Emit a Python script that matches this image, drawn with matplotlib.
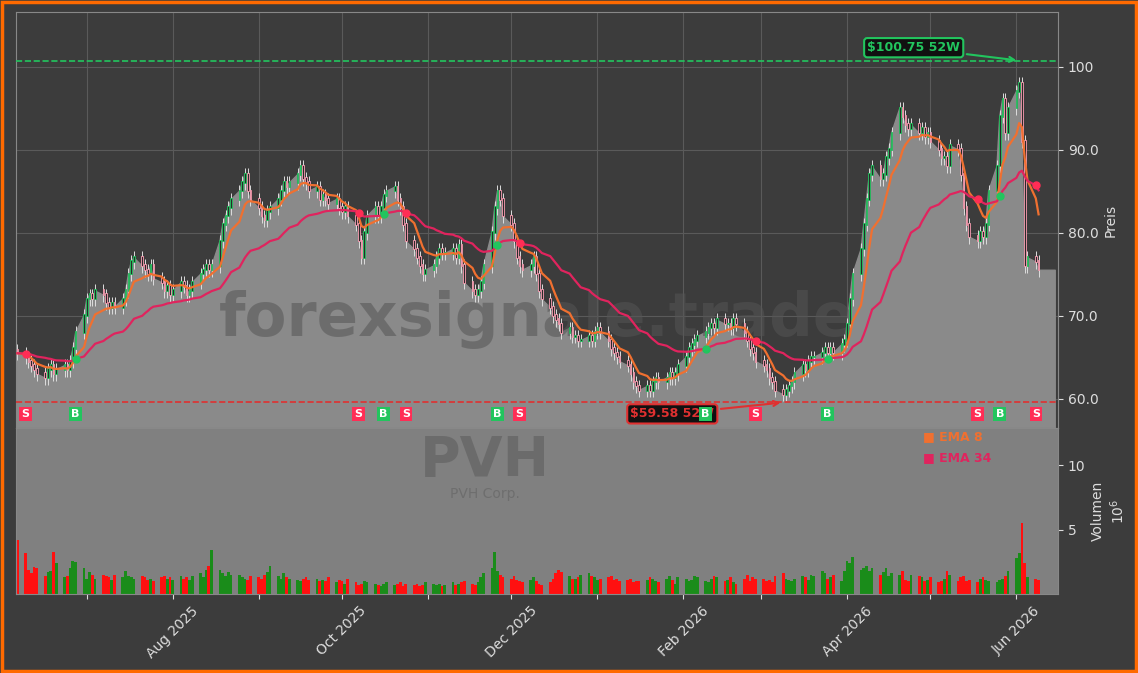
import numpy as np
import pandas as pd
import matplotlib
matplotlib.use("Agg")
import matplotlib.pyplot as plt
import matplotlib.dates as mdates

# daily closes, roughly one row per trading week
close = [
    65.5, 65, 64.5, 64, 63.5,  63, 62.5, 63.5, 64, 63,  63.5, 64, 63.5, 64.5, 66,
    68, 70, 72, 72.5, 72,  73, 72.5, 71.5, 71, 71.5,  71, 72, 73, 75, 76.5,
    77, 76, 75.5, 75, 76,  74.5, 74, 73, 73.5, 72.5,  73, 74, 73.5, 72.5, 73,
    74, 75, 75.5, 76, 75.5,  76, 79, 81, 82, 83, 84,  85, 86, 87, 85, 84,
    83, 82, 81.5, 82.5, 83,  84, 85, 86, 85.5, 86,  87, 88, 86.5, 86, 85,
    85.5, 84, 84.5, 84, 83.5, 84,  83, 82.5, 83, 82, 81,  79, 77, 80, 82, 83,
    82, 83, 84.5, 85, 85.5,  84, 83, 81, 79, 78,  77, 76, 75, 75.5, 76,
    77, 78, 77.5, 77.5, 78, 77,  78.5, 76, 74, 73, 72.5,  73, 74, 76, 80, 83,
    85, 84, 82, 81, 79, 77,  76, 75.5, 76, 77, 75,  73, 72, 71, 70, 69.5,
    69, 68, 68.5, 67.5, 67.5, 67,  67, 67.5, 67, 68, 68.5,  68, 67, 66, 65.5, 65,
    64.5, 64, 63, 62, 61.5, 61,  61.5, 61, 62, 62.5, 62,  62.5, 63, 62.5, 63, 64,
    65, 66, 66.5, 67, 67.5, 68,  68.5, 69, 68.5, 69.5, 69,  69, 68.5, 69.5, 69, 68,
    67, 66, 65.5, 64.5, 64, 63.5,  62.5, 62, 61, 60.5, 61,  61.5, 62, 63, 64, 63.5,
    64.5, 65, 65, 65.5, 66, 65.5,  66, 65.5, 66.5, 67, 69,  72, 75, 78, 81, 84,
    87, 88, 86.5, 87, 89, 90,  92, 95, 94, 93, 92.5,  93, 92, 92.5, 91.5, 92,
    91, 90, 89, 89, 88, 90.5,  90, 87, 83, 81, 79.5,  79, 80, 79.5, 81, 85,
    88, 94, 96, 92, 95,  97, 98, 91, 76, 77,  76.5, 75.5,
]
# volume in millions
volume = [
    4.2, 3.2, 1.9, 1.6, 2.1,  2.0, 1.4, 1.7, 1.8, 3.3,  2.4, 1.3, 1.4, 2.0, 2.6,
    2.5, 2.0, 1.2, 1.7, 1.5,  1.2, 1.5, 1.4, 1.3, 1.1,  1.5, 1.3, 1.8, 1.4, 1.3,
    1.2, 1.4, 1.3, 1.1, 1.2,  1.0, 1.3, 1.4, 1.2, 1.3,  1.1, 1.4, 1.2, 1.3, 1.1,
    1.4, 1.6, 1.3, 1.9, 2.2,  3.4, 1.9, 1.6, 1.4, 1.7, 1.5,  1.5, 1.3, 1.2, 1.1, 1.4,
    1.3, 1.2, 1.5, 1.7, 2.2,  1.4, 1.2, 1.6, 1.3, 1.2,  1.1, 1.0, 1.2, 1.3, 1.1,
    1.2, 1.0, 1.1, 1.0, 1.3, 0.9,  1.1, 1.0, 0.8, 1.2, 0.9,  0.7, 0.8, 1.0, 0.9, 0.8,
    0.7, 0.6, 0.8, 0.9, 0.7,  0.8, 0.9, 0.6, 0.8, 0.7,  0.8, 0.6, 0.7, 0.9, 0.8,
    0.7, 0.8, 0.6, 0.7, 0.9, 0.7,  0.8, 0.9, 1.0, 0.8, 0.7,  0.9, 1.3, 1.6, 2.0, 3.3,
    1.8, 1.5, 1.3, 1.2, 1.4, 1.1,  1.0, 0.9, 1.1, 1.3, 1.0,  0.8, 0.7, 0.9, 1.2, 1.6,
    1.9, 1.7, 1.4, 1.2, 1.2, 1.3,  1.5, 1.6, 1.4, 1.3, 1.1,  1.2, 1.3, 1.4, 1.1, 1.2,
    1.0, 1.1, 1.2, 0.9, 1.0, 1.0,  1.1, 1.3, 1.2, 1.0, 0.9,  1.2, 1.4, 1.1, 0.8, 1.3,
    1.2, 1.0, 1.1, 1.4, 1.3, 1.0,  0.9, 1.2, 1.4, 1.3, 1.0,  1.1, 1.3, 0.9, 0.8, 1.2,
    1.5, 1.0, 1.3, 1.2, 1.2, 1.0,  1.1, 0.9, 1.4, 1.6, 1.2,  1.1, 1.0, 1.2, 1.4, 1.3,
    1.1, 1.5, 1.4, 1.8, 1.6, 1.2,  1.3, 1.5, 1.0, 1.8, 2.6,  2.4, 2.9, 1.9, 2.0, 2.2,
    1.8, 2.0, 1.5, 1.7, 2.0, 1.4,  1.6, 1.5, 1.8, 1.1, 1.0,  1.5, 1.4, 1.3, 1.0, 1.1,
    1.3, 0.9, 1.0, 1.2, 1.8, 1.5,  1.0, 1.3, 1.4, 1.0, 1.1,  0.9, 1.2, 1.3, 1.1, 1.0,
    0.9, 1.1, 1.2, 1.4, 1.8,  2.8, 3.2, 5.5, 2.4, 1.3,  1.2, 1.1,
]
start_date = "2025-06-06"
high_52w, low_52w = 100.75, 59.58

bg = "#3c3c3c"
up_c, dn_c = "#22c55e", "#ff2d55"
ema8_c, ema34_c = "#f07030", "#e0245e"

n = min(len(close), len(volume))
close = np.array(close[:n]); volume = np.array(volume[:n])
dates = pd.bdate_range(start_date, periods=n)
opens = np.concatenate([[close[0] + 0.3], close[:-1]])
highs = np.maximum(opens, close) + 0.8
lows = np.minimum(opens, close) - 0.8
s = pd.Series(close, index=dates)
ema8 = s.ewm(span=8, adjust=False).mean().values
ema34 = s.ewm(span=34, adjust=False).mean().values

fig = plt.figure(figsize=(11.38, 6.73), dpi=100, facecolor=bg)
fig.patches.append(plt.Rectangle((0.002, 0.003), 0.996, 0.994, transform=fig.transFigure,
                                 fill=False, edgecolor="#ff6a00", linewidth=2.5))
W, H = 1138, 673
ax = fig.add_axes([16 / W, (H - 428) / H, 1042 / W, 416 / H], facecolor=bg)
axv = fig.add_axes([16 / W, (H - 594) / H, 1042 / W, 166 / H], facecolor="#808080", sharex=ax)

x = mdates.date2num(dates)
ax.fill_between(np.append(x, x[-1] + 6), 0, np.append(close, close[-1]), color="#8a8a8a", zorder=1)
for i in range(n):
    c = up_c if close[i] >= opens[i] else dn_c
    ax.vlines(x[i], lows[i], highs[i], color="#dddddd", lw=0.7, zorder=2)
    ax.bar(x[i], abs(close[i] - opens[i]) + 0.2, bottom=min(close[i], opens[i]), width=0.6,
           color="#2a2a2a", edgecolor=c if c == up_c else "#ff9fb5", lw=0.6, zorder=3)
ax.plot(x, ema8, color=ema8_c, lw=1.6, zorder=4)
ax.plot(x, ema34, color=ema34_c, lw=1.6, zorder=4)

# crossover signals
diff = np.sign(ema8 - ema34)
for i in range(1, n):
    if diff[i] != diff[i - 1] and diff[i] != 0:
        buy = diff[i] > 0
        c = up_c if buy else dn_c
        ax.plot(x[i], ema34[i], "o", color=c, ms=5, zorder=5)
        ax.text(x[i], 58.2, "B" if buy else "S", color="white", fontsize=8, fontweight="bold",
                ha="center", va="center", bbox=dict(boxstyle="square,pad=0.2", fc=c, ec="none"), zorder=6)

ax.axhline(high_52w, color="#22c55e", ls="--", lw=1.2, zorder=4)
ax.axhline(low_52w, color="#e03030", ls="--", lw=1.2, zorder=4)
ih, il = int(np.argmax(close)), int(np.argmin(close))
ax.annotate(f"${high_52w:.2f} 52W", xy=(x[ih], high_52w), xytext=(x[ih] - 38, 102.3),
            color="#22c55e", fontsize=9, fontweight="bold", ha="center", va="center",
            bbox=dict(boxstyle="round,pad=0.25", fc="#111111", ec="#22c55e", lw=1.5),
            arrowprops=dict(arrowstyle="->", color="#22c55e", lw=1.5), zorder=7)
ax.annotate(f"${low_52w:.2f} 52W", xy=(x[il], low_52w), xytext=(x[il] - 40, 58.2),
            color="#e03030", fontsize=9, fontweight="bold", ha="center", va="center",
            bbox=dict(boxstyle="round,pad=0.25", fc="#111111", ec="#e03030", lw=1.5),
            arrowprops=dict(arrowstyle="->", color="#e03030", lw=1.5), zorder=5)

ax.text(0.5, 0.26, "forexsignale.trade", transform=ax.transAxes, fontsize=44, fontweight="bold",
        color="#555555", alpha=0.55, ha="center", va="center", zorder=1.5)
axv.text(0.45, 0.8, "PVH", transform=axv.transAxes, fontsize=40, fontweight="bold",
         color="#666666", alpha=0.8, ha="center", va="center")
axv.text(0.45, 0.6, "PVH Corp.", transform=axv.transAxes, fontsize=10, color="#6e6e6e",
         ha="center", va="center")

vc = np.where(close >= opens, "#1a8c1a", "#ff1010")
axv.bar(x, volume, width=1.0, color=vc)
axv.set_ylim(0, 12.9)
axv.set_yticks([5, 10])
axv.text(0.87, 0.93, "■ EMA 8", transform=axv.transAxes, color=ema8_c, fontsize=9, fontweight="bold")
axv.text(0.87, 0.8, "■ EMA 34", transform=axv.transAxes, color=ema34_c, fontsize=9, fontweight="bold")

ax.set_ylim(56.5, 106.6)
ax.set_yticks([60, 70, 80, 90, 100])
ax.set_yticklabels(["60.0", "70.0", "80.0", "90.0", "100"])
ax.set_xlim(x[0] - 0.5, mdates.date2num(pd.Timestamp("2026-06-16")))
for a in (ax, axv):
    a.yaxis.tick_right(); a.yaxis.set_label_position("right")
    a.tick_params(colors="#dddddd", labelsize=10)
    for sp in a.spines.values():
        sp.set_color("#888888")
ax.grid(True, color="#5a5a5a", lw=0.8)
ax.set_axisbelow(True)
ax.set_ylabel("Preis", color="#dddddd")
axv.set_ylabel("Volumen\n$10^6$", color="#dddddd")
ax.tick_params(axis="x", labelbottom=False)
axv.xaxis.set_major_locator(mdates.MonthLocator())
axv.xaxis.set_major_formatter(plt.FuncFormatter(
    lambda v, p: mdates.num2date(v).strftime("%b %Y") if mdates.num2date(v).month % 2 == 0 else ""))
plt.setp(axv.get_xticklabels(), rotation=45, ha="center")

fig.savefig("out.png", dpi=100, facecolor=bg)
